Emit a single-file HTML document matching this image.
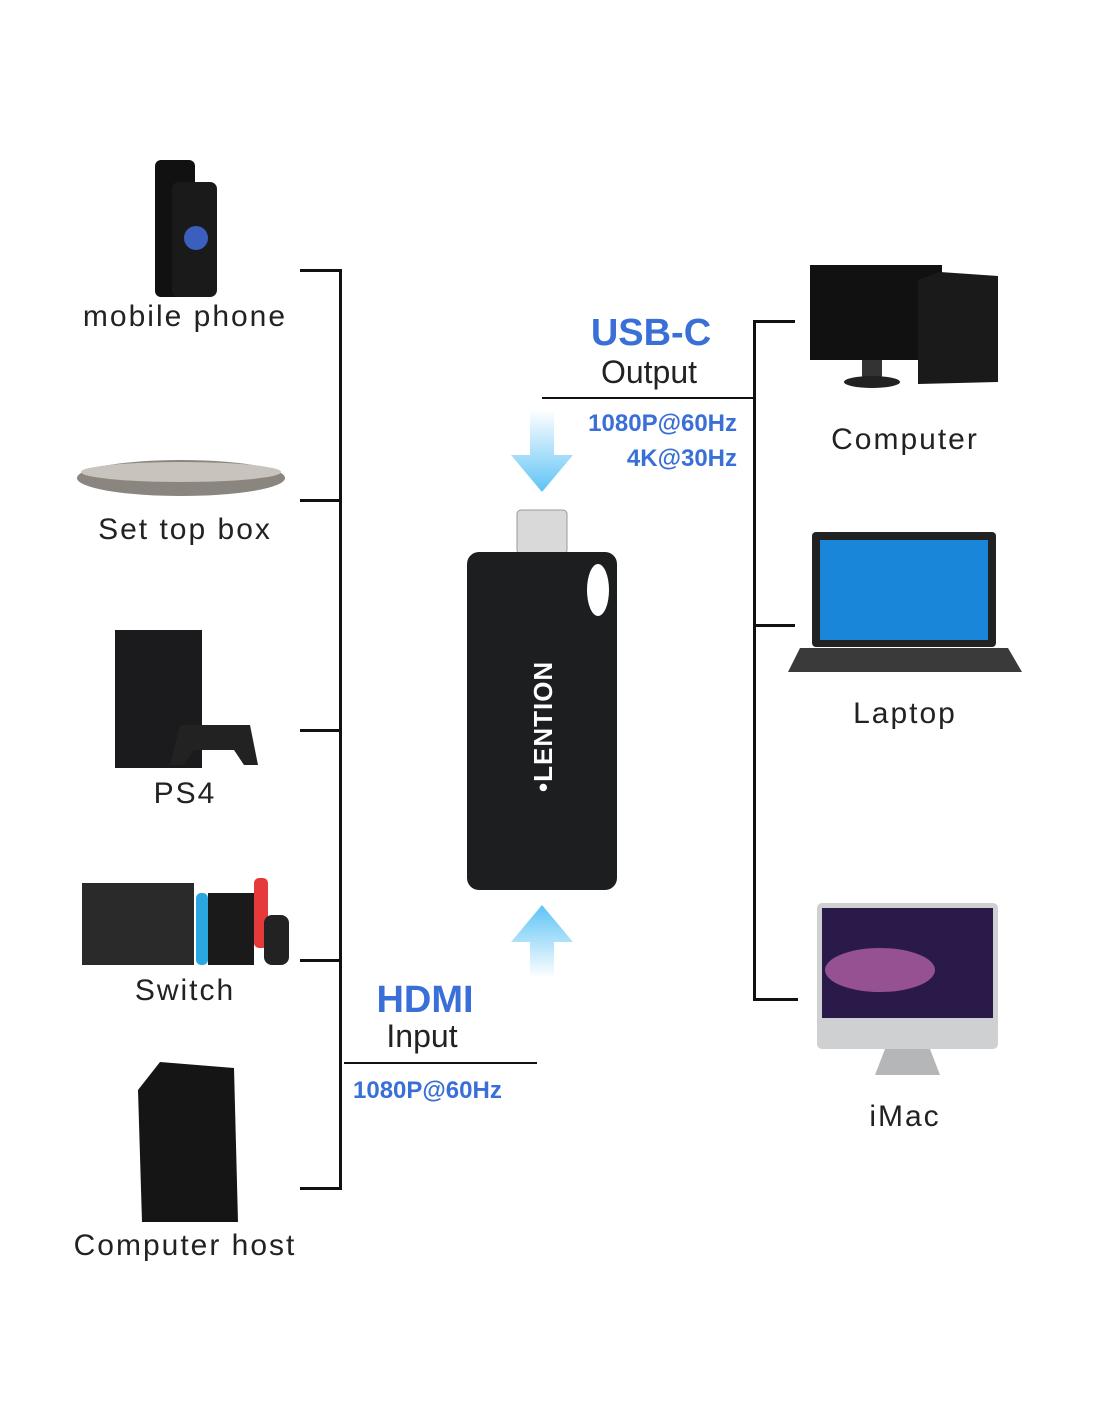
<!DOCTYPE html>
<html><head><meta charset="utf-8"><style>
body{margin:0;width:1100px;height:1422px;background:#fff;position:relative;overflow:hidden;font-family:"Liberation Sans",sans-serif}
.a{position:absolute}
.l{position:absolute;background:#111}
.lab{position:absolute;font-size:30px;color:#222;text-align:center;width:300px;letter-spacing:2px}
.b{position:absolute;color:#3a6fd8;font-weight:bold}
</style></head><body>
<!-- left bracket -->
<div class="l" style="left:339px;top:270px;width:3px;height:920px"></div>
<div class="l" style="left:300px;top:269px;width:42px;height:3px"></div>
<div class="l" style="left:300px;top:499px;width:42px;height:3px"></div>
<div class="l" style="left:300px;top:729px;width:42px;height:3px"></div>
<div class="l" style="left:300px;top:959px;width:42px;height:3px"></div>
<div class="l" style="left:300px;top:1187px;width:42px;height:3px"></div>
<div class="l" style="left:344px;top:1062px;width:193px;height:2px"></div>
<!-- right bracket -->
<div class="l" style="left:753px;top:320px;width:3px;height:681px"></div>
<div class="l" style="left:753px;top:320px;width:42px;height:3px"></div>
<div class="l" style="left:753px;top:624px;width:42px;height:3px"></div>
<div class="l" style="left:753px;top:998px;width:45px;height:3px"></div>
<div class="l" style="left:542px;top:397px;width:212px;height:2px"></div>

<!-- labels -->
<div class="lab" style="left:35px;top:300px">mobile phone</div>
<div class="lab" style="left:35px;top:513px">Set top box</div>
<div class="lab" style="left:35px;top:777px">PS4</div>
<div class="lab" style="left:35px;top:974px">Switch</div>
<div class="lab" style="left:35px;top:1229px">Computer host</div>
<div class="lab" style="left:755px;top:423px">Computer</div>
<div class="lab" style="left:755px;top:697px">Laptop</div>
<div class="lab" style="left:755px;top:1100px">iMac</div>

<div class="b" style="left:551px;top:312px;width:200px;text-align:center;font-size:38px">USB-C</div>
<div class="a" style="left:549px;top:354px;width:200px;text-align:center;font-size:32px;color:#222">Output</div>
<div class="b" style="left:537px;top:410px;width:200px;text-align:right;font-size:24px">1080P@60Hz</div>
<div class="b" style="left:537px;top:445px;width:200px;text-align:right;font-size:24px">4K@30Hz</div>
<div class="b" style="left:325px;top:979px;width:200px;text-align:center;font-size:38px">HDMI</div>
<div class="a" style="left:322px;top:1018px;width:200px;text-align:center;font-size:32px;color:#222">Input</div>
<div class="b" style="left:353px;top:1077px;font-size:24px">1080P@60Hz</div>

<svg class="a" style="left:0;top:0" width="1100" height="1422">
<defs>
<linearGradient id="g1" x1="0" y1="0" x2="0" y2="1"><stop offset="0" stop-color="#fff"/><stop offset="1" stop-color="#5ec3f5"/></linearGradient>
<linearGradient id="g2" x1="0" y1="1" x2="0" y2="0"><stop offset="0" stop-color="#fff"/><stop offset="1" stop-color="#5ec3f5"/></linearGradient>
</defs>
<polygon points="530,410 554,410 554,455 573,455 542,492 511,455 530,455" fill="url(#g1)"/>
<polygon points="530,978 554,978 554,942 573,942 542,905 511,942 530,942" fill="url(#g2)"/>
<!-- dongle -->
<rect x="517" y="510" width="50" height="44" rx="4" fill="#d9d9d9" stroke="#999"/>
<rect x="467" y="552" width="150" height="338" rx="12" fill="#1c1e20"/>
<ellipse cx="598" cy="590" rx="11" ry="26" fill="#fff"/>
<text x="0" y="0" transform="translate(552,792) rotate(-90)" fill="#fff" font-family="Liberation Sans" font-weight="bold" font-size="26" letter-spacing="1">•LENTION</text>
<!-- phone -->
<rect x="155" y="160" width="40" height="137" rx="6" fill="#111"/>
<rect x="172" y="182" width="45" height="115" rx="7" fill="#1a1a1a"/>
<circle cx="196" cy="238" r="12" fill="#3a5fbf"/>
<!-- set top box -->
<ellipse cx="181" cy="478" rx="104" ry="18" fill="#8a857f"/>
<ellipse cx="181" cy="472" rx="100" ry="10" fill="#c8c3bd"/>
<!-- PS4 -->
<rect x="115" y="630" width="87" height="138" fill="#1b1b1d"/>
<path d="M180 725 h70 l8 40 h-14 l-10-15 h-40 l-10 15 h-14z" fill="#222"/>
<!-- Switch -->
<rect x="82" y="883" width="112" height="82" fill="#2a2a2a"/>
<rect x="196" y="893" width="12" height="72" fill="#2aa7e0" rx="5"/>
<rect x="208" y="893" width="46" height="72" fill="#1a1a1a"/>
<rect x="254" y="878" width="14" height="70" fill="#e63a3a" rx="5"/>
<rect x="264" y="915" width="25" height="50" fill="#222" rx="8"/>
<!-- tower -->
<polygon points="138,1090 160,1062 234,1068 238,1222 142,1222" fill="#151515"/>
<!-- Computer -->
<rect x="810" y="265" width="132" height="95" fill="#111"/>
<rect x="862" y="360" width="20" height="18" fill="#333"/>
<ellipse cx="872" cy="382" rx="28" ry="6" fill="#222"/>
<polygon points="918,280 940,272 998,276 998,382 918,384" fill="#1a1a1a"/>
<!-- Laptop -->
<rect x="812" y="532" width="184" height="115" rx="4" fill="#222"/>
<rect x="820" y="540" width="168" height="100" fill="#1a86d9"/>
<polygon points="800,648 1008,648 1022,672 788,672" fill="#3a3a3a"/>
<!-- iMac -->
<rect x="817" y="903" width="181" height="146" rx="5" fill="#cfd0d2"/>
<rect x="822" y="908" width="171" height="110" fill="#2a1a4a"/>
<ellipse cx="880" cy="970" rx="55" ry="22" fill="#c46ab0" opacity="0.7"/>
<polygon points="885,1049 930,1049 940,1075 875,1075" fill="#b5b6b8"/>
</svg>
</body></html>
